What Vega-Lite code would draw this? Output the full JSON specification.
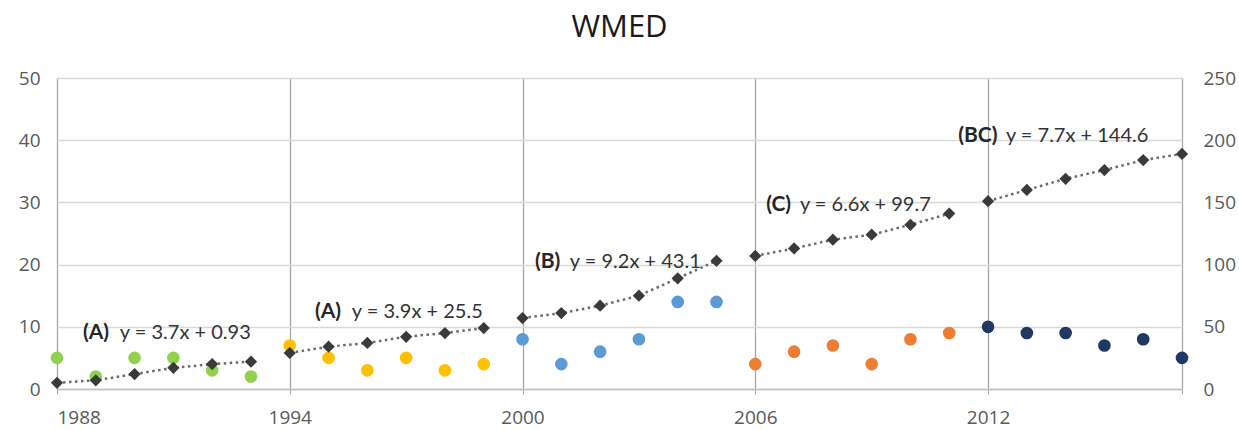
{
  "$schema": "https://vega.github.io/schema/vega-lite/v6.json",
  "width": 1125,
  "height": 311,
  "autosize": {"type": "none"},
  "padding": {"left": 57, "top": 78, "right": 57, "bottom": 41},
  "background": "white",
  "config": {"view": {"stroke": null}, "font": "Lato"},
  "title": {"text": "WMED", "fontSize": 31, "font": "Open Sans", "fontWeight": "normal", "color": "#1a1a1a", "anchor": "middle", "offset": 25},
  "datasets": {
    "main": [
      {"year": 1988, "count": 5, "cum": 5, "period": "A1"},
      {"year": 1989, "count": 2, "cum": 7, "period": "A1"},
      {"year": 1990, "count": 5, "cum": 12, "period": "A1"},
      {"year": 1991, "count": 5, "cum": 17, "period": "A1"},
      {"year": 1992, "count": 3, "cum": 20, "period": "A1"},
      {"year": 1993, "count": 2, "cum": 22, "period": "A1"},
      {"year": 1994, "count": 7, "cum": 29, "period": "A2"},
      {"year": 1995, "count": 5, "cum": 34, "period": "A2"},
      {"year": 1996, "count": 3, "cum": 37, "period": "A2"},
      {"year": 1997, "count": 5, "cum": 42, "period": "A2"},
      {"year": 1998, "count": 3, "cum": 45, "period": "A2"},
      {"year": 1999, "count": 4, "cum": 49, "period": "A2"},
      {"year": 2000, "count": 8, "cum": 57, "period": "B"},
      {"year": 2001, "count": 4, "cum": 61, "period": "B"},
      {"year": 2002, "count": 6, "cum": 67, "period": "B"},
      {"year": 2003, "count": 8, "cum": 75, "period": "B"},
      {"year": 2004, "count": 14, "cum": 89, "period": "B"},
      {"year": 2005, "count": 14, "cum": 103, "period": "B"},
      {"year": 2006, "count": 4, "cum": 107, "period": "C"},
      {"year": 2007, "count": 6, "cum": 113, "period": "C"},
      {"year": 2008, "count": 7, "cum": 120, "period": "C"},
      {"year": 2009, "count": 4, "cum": 124, "period": "C"},
      {"year": 2010, "count": 8, "cum": 132, "period": "C"},
      {"year": 2011, "count": 9, "cum": 141, "period": "C"},
      {"year": 2012, "count": 10, "cum": 151, "period": "BC"},
      {"year": 2013, "count": 9, "cum": 160, "period": "BC"},
      {"year": 2014, "count": 9, "cum": 169, "period": "BC"},
      {"year": 2015, "count": 7, "cum": 176, "period": "BC"},
      {"year": 2016, "count": 8, "cum": 184, "period": "BC"},
      {"year": 2017, "count": 5, "cum": 189, "period": "BC"}
    ],
    "notes": [
      {"lx": 1988.67, "ex": 1989.62, "y": 9.0, "tag": "(A)", "eq": "y = 3.7x + 0.93"},
      {"lx": 1994.65, "ex": 1995.6, "y": 12.3, "tag": "(A)", "eq": "y = 3.9x + 25.5"},
      {"lx": 2000.32, "ex": 2001.22, "y": 20.4, "tag": "(B)", "eq": "y = 9.2x + 43.1"},
      {"lx": 2006.28, "ex": 2007.15, "y": 29.6, "tag": "(C)", "eq": "y = 6.6x + 99.7"},
      {"lx": 2011.23, "ex": 2012.46, "y": 40.6, "tag": "(BC)", "eq": "y = 7.7x + 144.6"}
    ]
  },
  "layer": [
    {
      "layer": [
        {
          "data": {"name": "main"},
          "mark": {"type": "point", "shape": "circle", "filled": true, "size": 160, "opacity": 1},
          "encoding": {
            "x": {
              "field": "year", "type": "quantitative",
              "scale": {"domain": [1988, 2017], "nice": false, "zero": false},
              "axis": {
                "title": null, "values": [1988, 1994, 2000, 2006, 2012, 2017],
                "labelExpr": "datum.value == 2017 ? '' : datum.value",
                "grid": true, "gridColor": "#a6a6a6", "gridWidth": 1.3,
                "domain": true, "domainColor": "#bfbfbf", "domainWidth": 1.5,
                "ticks": true, "tickSize": 5, "tickColor": "#a6a6a6",
                "labelColor": "#595959", "labelFontSize": 19, "labelFont": "Open Sans", "labelPadding": 14
              }
            },
            "y": {
              "field": "count", "type": "quantitative",
              "scale": {"domain": [0, 50], "nice": false},
              "axis": {
                "title": null, "orient": "left", "values": [0, 10, 20, 30, 40, 50],
                "grid": true, "gridColor": "#d9d9d9", "gridWidth": 1.3,
                "domain": false, "ticks": false,
                "labelColor": "#595959", "labelFontSize": 19, "labelFont": "Open Sans", "labelPadding": 17
              }
            },
            "color": {
              "field": "period", "type": "nominal",
              "scale": {"domain": ["A1", "A2", "B", "C", "BC"], "range": ["#92d050", "#ffc000", "#5b9bd5", "#ed7d31", "#203864"]},
              "legend": null
            }
          }
        },
        {
          "data": {"name": "notes"},
          "mark": {"type": "text", "align": "left", "baseline": "middle", "fontSize": 21, "fontWeight": "bold", "color": "#262626"},
          "encoding": {
            "x": {"field": "lx", "type": "quantitative"},
            "y": {"field": "y", "type": "quantitative"},
            "text": {"field": "tag"}
          }
        },
        {
          "data": {"name": "notes"},
          "mark": {"type": "text", "align": "left", "baseline": "middle", "fontSize": 20, "color": "#333333"},
          "encoding": {
            "x": {"field": "ex", "type": "quantitative"},
            "y": {"field": "y", "type": "quantitative"},
            "text": {"field": "eq"}
          }
        }
      ]
    },
    {
      "layer": [
        {
          "data": {"name": "main"},
          "mark": {"type": "line", "color": "#6b6b6b", "strokeWidth": 2.5, "strokeDash": [2.5, 3.5]},
          "encoding": {
            "x": {"field": "year", "type": "quantitative"},
            "y": {
              "field": "cum", "type": "quantitative",
              "scale": {"domain": [0, 250], "nice": false},
              "axis": {
                "title": null, "orient": "right", "values": [0, 50, 100, 150, 200, 250],
                "grid": false, "domain": false, "ticks": false,
                "labelColor": "#595959", "labelFontSize": 19, "labelFont": "Open Sans", "labelPadding": 21
              }
            },
            "detail": {"field": "period"}
          }
        },
        {
          "data": {"name": "main"},
          "mark": {"type": "point", "shape": "diamond", "filled": true, "size": 150, "color": "#3a3a3a", "opacity": 1},
          "encoding": {
            "x": {"field": "year", "type": "quantitative"},
            "y": {"field": "cum", "type": "quantitative"}
          }
        }
      ]
    }
  ],
  "resolve": {"scale": {"y": "independent"}}
}
